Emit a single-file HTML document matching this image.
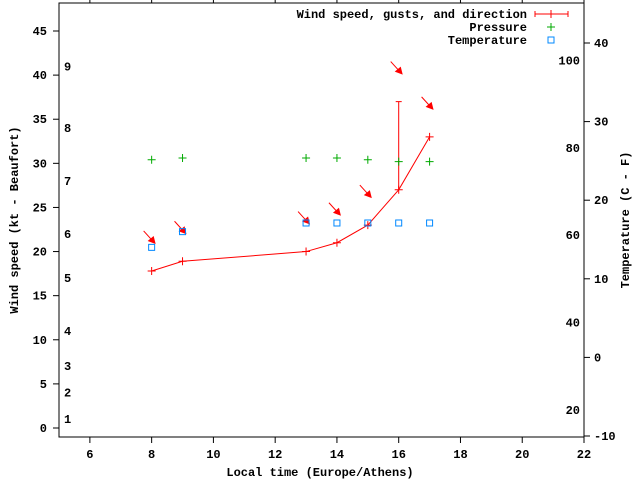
<!DOCTYPE html>
<html><head><meta charset="utf-8"><style>
body{margin:0;background:#fff}
svg text{font-family:"Liberation Mono","DejaVu Sans Mono",monospace;font-size:12px;font-weight:bold;fill:#000}
</style></head><body>
<svg id="c" width="640" height="480" viewBox="0 0 640 480" xmlns="http://www.w3.org/2000/svg"></svg>
<script>
const times=[8,9,13,14,15,16,17];
const wind=[17.8,18.9,20,21,23,27,33];
const gust=[null,null,null,null,null,37,null];
const pressure=[30.4,30.6,30.6,30.6,30.4,30.2,30.2];
const tempC=[14,16,17.1,17.1,17.1,17.1,17.1];
const xTicks=[6,8,10,12,14,16,18,20,22];
const yTicks=[0,5,10,15,20,25,30,35,40,45];
const cTicks=[-10,0,10,20,30,40];
const fTicks=[20,40,60,80,100];
const bft=[[1,1],[2,4],[3,7],[4,11],[5,17],[6,22],[7,28],[8,34],[9,41]];
const L=59,R=584,T=3,B=437;
const X=v=>L+(v-5)/(22-5)*(R-L);
const Y=v=>428-v*(397/45);
const YC=v=>436-(v+10)*7.86;
const YF=f=>YC((f-32)*5/9);
const s=document.getElementById('c');const NS='http://www.w3.org/2000/svg';
function el(t,a,p){const e=document.createElementNS(NS,t);for(const k in a)e.setAttribute(k,a[k]);(p||s).appendChild(e);return e;}
function tx(x,y,str,anchor,name,rot){const e=el('text',{x:x,y:y,'text-anchor':anchor||'start'});e.textContent=str;if(rot)e.setAttribute('transform',rot);return e;}
const frame=el('rect',{x:L,y:T,width:R-L,height:B-T,fill:'none',stroke:'#000'});

xTicks.forEach(v=>{const x=X(v);el('line',{x1:x,y1:B,x2:x,y2:B+6,stroke:'#000'});el('line',{x1:x,y1:T,x2:x,y2:T-6,stroke:'#000'});tx(x,458,String(v),'middle','x-tick-label');});
yTicks.forEach(v=>{const y=Y(v);el('line',{x1:L,y1:y,x2:L-6,y2:y,stroke:'#000'});tx(47,y+4,String(v),'end','y-tick-label');});
cTicks.forEach(v=>{const y=YC(v);el('line',{x1:R,y1:y,x2:R+6,y2:y,stroke:'#000'});tx(594,y+4,String(v),'start','temp-c-tick-label');});
fTicks.forEach(v=>{tx(580,YF(v)+4,String(v),'end','temp-f-tick-label');});
bft.forEach(b=>{tx(64,Y(b[1])+4,String(b[0]),'start','beaufort-label');});
tx(320,476,'Local time (Europe/Athens)','middle','x-axis-title');
tx(0,0,'Wind speed (kt - Beaufort)','middle','y-axis-title','translate(18,220) rotate(-90)');
tx(0,0,'Temperature (C - F)','middle','y2-axis-title','translate(629,220) rotate(-90)');
// wind line
const pts=times.map((t,i)=>X(t)+','+Y(wind[i])).join(' ');
const pl=el('polyline',{points:pts,fill:'none',stroke:'#f00'});

times.forEach((t,i)=>{const x=X(t),y=Y(wind[i]);
 el('path',{d:`M${x-4},${y}h8M${x},${y-4}v8`,stroke:'#f00'});
 let top=y;
 if(gust[i]!=null){const gy=Y(gust[i]);const g=el('path',{d:`M${x},${y}V${gy}M${x-3},${gy}h6`,stroke:'#f00'});top=gy;}
 const ay=top-40,ax=x-8;const a=el('g',{});
 el('line',{x1:ax,y1:ay,x2:x+2,y2:ay+11,stroke:'#f00'},a);
 el('polygon',{points:`${x+4},${ay+13} ${x-4},${ay+10} ${x+2},${ay+5}`,fill:'#f00'},a);
 const py=Y(pressure[i]);const p=el('path',{d:`M${x-4},${py}h8M${x},${py-4}v8`,stroke:'#0a0'});
 const ty=YC(tempC[i]);const q=el('rect',{x:x-3,y:ty-3,width:6,height:6,fill:'none',stroke:'#08f'});
});
// legend
tx(527,18,'Wind speed, gusts, and direction','end','legend-wind');
el('path',{d:'M535,14h33M535,11v6M568,11v6M551,10v8',stroke:'#f00'});
tx(527,31,'Pressure','end','legend-pressure');
el('path',{d:'M547,27h8M551,23v8',stroke:'#0a0'});
tx(527,44,'Temperature','end','legend-temperature');
el('rect',{x:548,y:37,width:6,height:6,fill:'none',stroke:'#08f'});
</script>
</body></html>
